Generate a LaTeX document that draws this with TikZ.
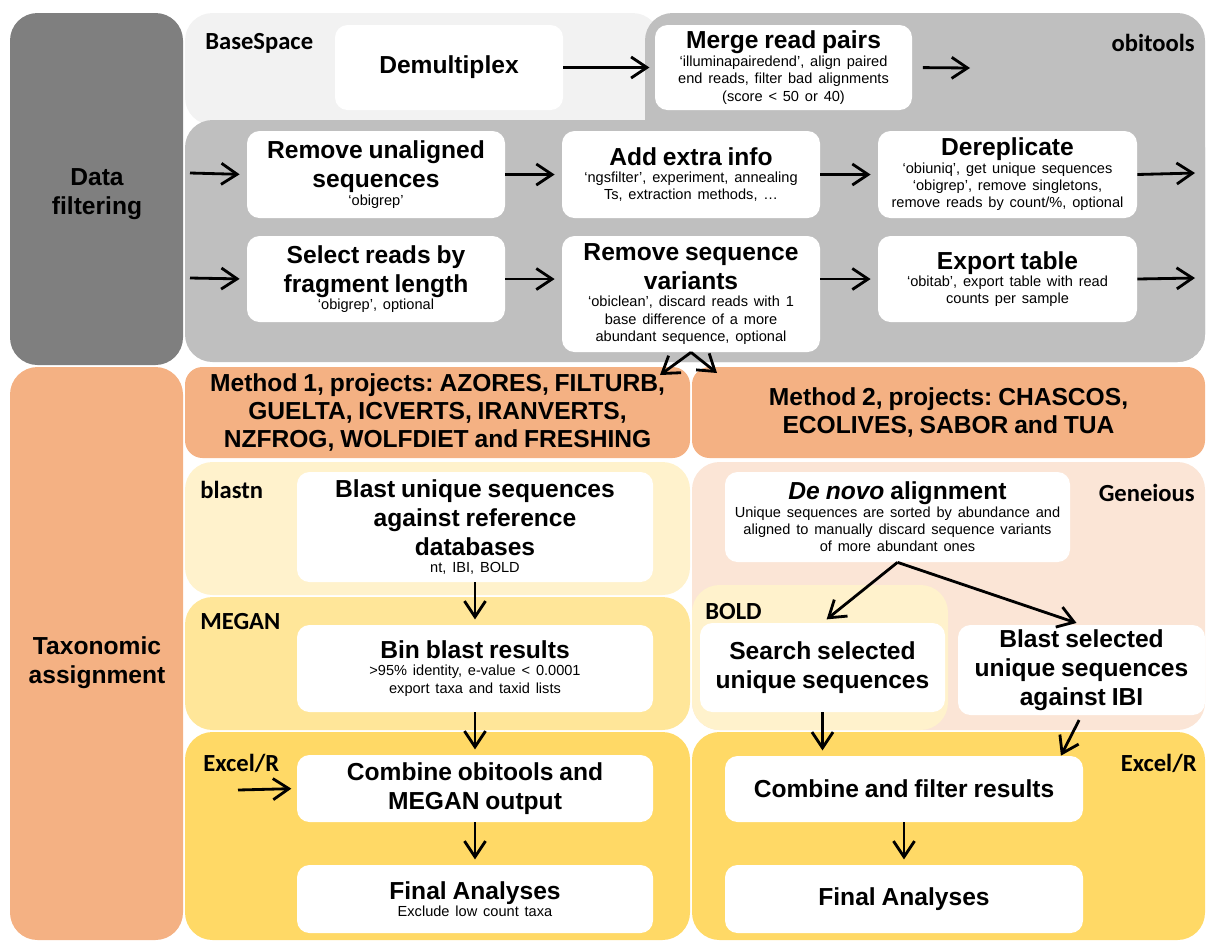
\documentclass[tikz,border=0pt]{standalone}
\usepackage{fontspec}
\setmainfont{Liberation Sans}
\newfontfamily\lblfont{Carlito}
\usetikzlibrary{arrows.meta}
\definecolor{darkpanel}{HTML}{7F7F7F}
\definecolor{basepanel}{HTML}{F2F2F2}
\definecolor{obipanel}{HTML}{BFBFBF}
\definecolor{taxpanel}{HTML}{F4B183}
\definecolor{genpanel}{HTML}{FBE5D6}
\definecolor{blastpanel}{HTML}{FFF2CC}
\definecolor{meganpanel}{HTML}{FFE699}
\definecolor{excelpanel}{HTML}{FFD966}
\newcommand\boxhead{\bfseries\fontsize{14}{16.4}\selectfont}
\newcommand\boxnote{\mdseries\fontsize{8.3}{9.9}\selectfont}
\newcommand\lblsize{\lblfont\bfseries\fontsize{14}{16}\selectfont}
\frenchspacing
\begin{document}
\begin{tikzpicture}[>={Straight Barb[length=9pt,width=12pt]},x=0.02cm,y=-0.02cm,
	procbox/.style 2 args={fill=white,rounded corners=0.25cm,minimum width=#1*0.02cm,minimum height=#2*0.02cm,text width=#1*0.02cm-6pt,align=center,inner sep=0pt},
	panel/.style={rounded corners=0.55cm},
	flow/.style={->,line width=1.6pt},
	tag/.style={font=\lblsize,inner sep=0pt}]
	\useasboundingbox (0,0) rectangle (1206,941);
	\clip (0,0) rectangle (1206,941);
	% panels of data filtering
	\fill[darkpanel,panel] (10,13) rectangle (183,365);
	\fill[basepanel,panel] (185,13) rectangle (660,125);
	\fill[obipanel,panel] (645,13) rectangle (1205,362);
	\fill[obipanel,panel] (185,120) rectangle (1205,362);
	% panels of taxonomic assignment
	\fill[taxpanel,panel] (10,367) rectangle (183,940);
	\fill[blastpanel,panel] (185,462) rectangle (690,595);
	\fill[meganpanel,panel] (185,597) rectangle (690,730);
	\fill[excelpanel,panel] (185,732) rectangle (690,940);
	\fill[genpanel,panel] (692,462) rectangle (1205,730);
	\fill[blastpanel,panel] (692,585) rectangle (948,730);
	\fill[excelpanel,panel] (692,732) rectangle (1205,940);
	% side titles and tool names
	\node[font=\boxhead,align=center] (datafilt) at (97,194) {Data\\filtering};
	\node[font=\boxhead,align=center] (taxassign) at (97,663) {Taxonomic\\assignment};
	\node[tag,anchor=west] (basespace) at (205,43) {BaseSpace};
	\node[tag,anchor=east] (obitools) at (1195,43) {obitools};
	\node[tag,anchor=west] (blastn) at (200,490) {blastn};
	\node[tag,anchor=west] (megan) at (200,622) {MEGAN};
	\node[tag,anchor=west] (excelA) at (203,763) {Excel/R};
	\node[tag,anchor=east] (geneious) at (1195,493) {Geneious};
	\node[tag,anchor=west] (bold) at (705,612) {BOLD};
	\node[tag,anchor=east] (excelB) at (1197,763) {Excel/R};
	% steps of data filtering
	\node[procbox={228}{85}] (demux) at (449,67.5) {{\boxhead Demultiplex\par}};
	\node[procbox={257}{85}] (merge) at (783.5,67.5) {{\boxhead Merge read pairs\par}{\boxnote ‘illuminapairedend’, align paired\\end reads, filter bad alignments\\(score < 50 or 40)\par}};
	\node[procbox={258}{87}] (unaligned) at (376,174.5) {{\boxhead Remove unaligned\\sequences\par}{\boxnote ‘obigrep’\par}};
	\node[procbox={258}{87}] (extra) at (691,174.5) {{\boxhead Add extra info\par}{\boxnote ‘ngsfilter’, experiment, annealing\\Ts, extraction methods, …\par}};
	\node[procbox={259}{87}] (derep) at (1007.5,174.5) {{\boxhead Dereplicate\par}{\boxnote ‘obiuniq’, get unique sequences\\‘obigrep’, remove singletons,\\remove reads by count/\%, optional\par}};
	\node[procbox={258}{86}] (fraglen) at (376,279) {{\boxhead Select reads by\\fragment length\par}{\boxnote ‘obigrep’, optional\par}};
	\node[procbox={258}{116}] (variants) at (691,294) {{\boxhead Remove sequence\\variants\par}{\boxnote ‘obiclean’, discard reads with 1\\base difference of a more\\abundant sequence, optional\par}};
	\node[procbox={259}{86}] (export) at (1007.5,279) {{\boxhead Export table\par}{\boxnote ‘obitab’, export table with read\\counts per sample\par}};
	% method headers
	\node[procbox={505}{91},fill=taxpanel,rounded corners=0.35cm] (methA) at (437.5,412.5) {{\boxhead\fontsize{14}{16}\selectfont Method 1, projects: AZORES, FILTURB,\\GUELTA, ICVERTS, IRANVERTS,\\NZFROG, WOLFDIET and FRESHING\par}};
	\node[procbox={513}{91},fill=taxpanel,rounded corners=0.35cm] (methB) at (948.5,412.5) {{\boxhead Method 2, projects: CHASCOS,\\ECOLIVES, SABOR and TUA\par}};
	% method 1
	\node[procbox={356}{110}] (blastuniq) at (475,527) {{\boxhead Blast unique sequences\\against reference\\databases\par}{\boxnote nt, IBI, BOLD\par}};
	\node[procbox={356}{87}] (binres) at (475,668.5) {{\boxhead Bin blast results\par}{\boxnote >95\% identity, e-value < 0.0001\\export taxa and taxid lists\par}};
	\node[procbox={356}{67}] (combA) at (475,788.5) {{\boxhead Combine obitools and\\MEGAN output\par}};
	\node[procbox={356}{68}] (finalA) at (475,899) {{\boxhead Final Analyses\par}{\boxnote Exclude low count taxa\par}};
	% method 2
	\node[procbox={345}{90}] (denovo) at (897.5,517) {{\boxhead\textit{De novo} alignment\par}{\boxnote Unique sequences are sorted by abundance and\\aligned to manually discard sequence variants\\of more abundant ones\par}};
	\node[procbox={245}{89}] (search) at (822.5,667.5) {{\boxhead Search selected\\unique sequences\par}};
	\node[procbox={247}{90}] (blastibi) at (1081.5,670) {{\boxhead Blast selected\\unique sequences\\against IBI\par}};
	\node[procbox={358}{66}] (combB) at (904,789) {{\boxhead Combine and filter results\par}};
	\node[procbox={358}{68}] (finalB) at (904,899) {{\boxhead Final Analyses\par}};
	% free ends
	\coordinate (out0) at (970,68);
	\coordinate (in1) at (190,173);
	\coordinate (in2) at (190,278);
	\coordinate (out1) at (1195,173);
	\coordinate (out2) at (1195,278);
	\coordinate (in3) at (238,790);
	\coordinate (tipA) at (660,375);
	\coordinate (tipB) at (717,373);
	% connectors
	\draw[flow,shorten >=3pt] (demux) -- (merge);
	\draw[flow,shorten <=6pt] (merge.east) -- (out0);
	\draw[flow,shorten >=4pt] (in1) -- (unaligned.west);
	\draw[flow,shorten >=4pt] (unaligned) -- (extra);
	\draw[flow,shorten >=4pt] (extra) -- (derep);
	\draw[flow] (derep.east) -- (out1);
	\draw[flow,shorten >=4pt] (in2) -- (fraglen.west);
	\draw[flow,shorten >=4pt] (fraglen.east) -- (variants.west |- fraglen.east);
	\draw[flow,shorten >=4pt] (variants.east |- export.west) -- (export.west);
	\draw[flow] (export.east) -- (out2);
	\draw[flow] (variants.south) -- (tipA);
	\draw[flow] (variants.south) -- (tipB);
	\draw[flow,shorten >=3pt] (blastuniq) -- (binres);
	\draw[flow,shorten >=3pt] (binres) -- (combA);
	\draw[flow,shorten >=3pt] (in3) -- (combA.west);
	\draw[flow,shorten >=3pt] (combA) -- (finalA);
	\draw[flow,shorten >=3pt] (denovo.south) -- (search.north);
	\draw[flow,shorten >=3pt] (denovo.south) -- (blastibi.north);
	\draw[flow,shorten >=3pt] (search.south) -- (search.south |- combB.north);
	\draw[flow,shorten <=3pt] (blastibi.south) -- (combB.12.3);
	\draw[flow,shorten >=3pt] (combB) -- (finalB);
\end{tikzpicture}
\end{document}
